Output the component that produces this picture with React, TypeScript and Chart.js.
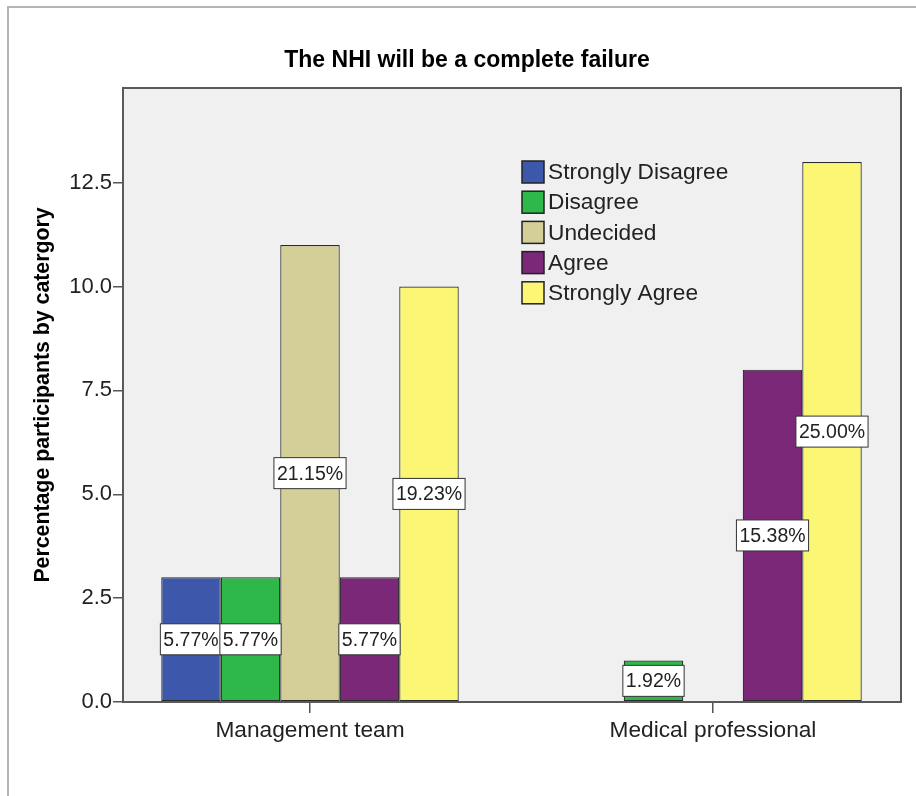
import React, { useEffect, useRef } from 'react';
import { Chart, registerables } from 'chart.js';

Chart.register(...registerables);

const chartTitle = 'The NHI will be a complete failure';
const yAxisTitle = 'Percentage participants by catergory';
const categories = ['Management team', 'Medical professional'];
const seriesNames = ['Strongly Disagree', 'Disagree', 'Undecided', 'Agree', 'Strongly Agree'];
const seriesColors = ['#3d58ab', '#2fb84a', '#d4cf99', '#7b2878', '#fbf775'];

const stronglyDisagree = [3, null];
const disagree = [3, 1];
const undecided = [11, null];
const agree = [3, 8];
const stronglyAgree = [10, 13];

const stronglyDisagreePct = ['5.77%', null];
const disagreePct = ['5.77%', '1.92%'];
const undecidedPct = ['21.15%', null];
const agreePct = ['5.77%', '15.38%'];
const stronglyAgreePct = ['19.23%', '25.00%'];

const yTicks = [0, 2.5, 5, 7.5, 10, 12.5];
const yMax = 14.78;

const seriesValues = [stronglyDisagree, disagree, undecided, agree, stronglyAgree];
const seriesPct = [stronglyDisagreePct, disagreePct, undecidedPct, agreePct, stronglyAgreePct];

const FONT = '"Liberation Sans", Arial, Helvetica, sans-serif';

const decorPlugin = {
  id: 'decor',
  beforeDraw(chart: any) {
    const { ctx, chartArea } = chart;
    ctx.save();
    ctx.strokeStyle = '#b4b4b4';
    ctx.lineWidth = 2;
    ctx.beginPath();
    ctx.moveTo(8, 796);
    ctx.lineTo(8, 7);
    ctx.lineTo(916, 7);
    ctx.stroke();
    ctx.fillStyle = '#f0f0f0';
    ctx.fillRect(chartArea.left, chartArea.top, chartArea.right - chartArea.left, chartArea.bottom - chartArea.top);
    ctx.restore();
  },
  afterDatasetsDraw(chart: any) {
    const { ctx, chartArea } = chart;
    ctx.save();
    ctx.strokeStyle = '#5a5a5a';
    ctx.lineWidth = 2;
    ctx.strokeRect(chartArea.left, chartArea.top, chartArea.right - chartArea.left, chartArea.bottom - chartArea.top);

    ctx.font = `19.5px ${FONT}`;
    ctx.textAlign = 'center';
    ctx.textBaseline = 'middle';
    chart.data.datasets.forEach((ds: any, di: number) => {
      const meta = chart.getDatasetMeta(di);
      meta.data.forEach((el: any, i: number) => {
        const d = ds.data[i];
        if (!d || d.pct == null) return;
        const p = el.getProps(['x', 'y', 'base'], true);
        let cy = (p.y + p.base) / 2;
        const h = 31;
        if (cy + h / 2 > p.base - 2) cy = p.base - 2 - h / 2;
        const w = ctx.measureText(d.pct).width + 6;
        ctx.fillStyle = '#ffffff';
        ctx.fillRect(p.x - w / 2, cy - h / 2, w, h);
        ctx.strokeStyle = '#333333';
        ctx.lineWidth = 1;
        ctx.strokeRect(p.x - w / 2, cy - h / 2, w, h);
        ctx.fillStyle = '#222222';
        ctx.fillText(d.pct, p.x, cy + 1);
      });
    });

    const lx = 522;
    const ly = 161;
    const step = 30.2;
    ctx.font = `22.7px ${FONT}`;
    ctx.textAlign = 'left';
    ctx.textBaseline = 'middle';
    chart.data.datasets.forEach((ds: any, di: number) => {
      const y = ly + di * step;
      ctx.fillStyle = ds.backgroundColor;
      ctx.fillRect(lx, y, 22, 22);
      ctx.strokeStyle = '#222222';
      ctx.lineWidth = 1.5;
      ctx.strokeRect(lx, y, 22, 22);
      ctx.fillStyle = '#222222';
      ctx.fillText(ds.label, lx + 26, y + 12);
    });

    ctx.restore();
  },
  afterDraw(chart: any) {
    const { ctx } = chart;
    ctx.save();
    ctx.font = `bold 23px ${FONT}`;
    ctx.fillStyle = '#000000';
    ctx.textAlign = 'center';
    ctx.textBaseline = 'middle';
    ctx.fillText(chartTitle, 467, 61);
    ctx.restore();
  },
};

export default function App() {
  const canvasRef = useRef<HTMLCanvasElement | null>(null);

  useEffect(() => {
    if (!canvasRef.current) return;
    const datasets = seriesNames.map((name, si) => ({
      label: name,
      backgroundColor: seriesColors[si],
      borderColor: '#2a2a2a',
      borderWidth: 1.2,
      borderSkipped: false,
      categoryPercentage: 0.7382,
      barPercentage: 1,
      data: categories
        .map((_, ci) => ({ x: ci, y: seriesValues[si][ci], pct: seriesPct[si][ci] }))
        .filter((d) => d.y != null),
    }));

    const chart = new Chart(canvasRef.current, {
      type: 'bar',
      data: { datasets } as any,
      plugins: [decorPlugin],
      options: {
        animation: false,
        responsive: false,
        devicePixelRatio: 1,
        layout: { padding: { top: 88, right: 15, left: 0, bottom: 0 } },
        plugins: {
          legend: { display: false },
          title: { display: false },
          tooltip: { enabled: false },
        },
        scales: {
          x: {
            type: 'linear',
            offset: false,
            min: -187 / 403,
            max: 1 + 188 / 403,
            border: { display: false },
            grid: {
              offset: false,
              drawOnChartArea: false,
              drawTicks: true,
              tickLength: 11,
              color: '#555555',
              lineWidth: 1.5,
            },
            afterBuildTicks: (scale: any) => {
              scale.ticks = categories.map((_, i) => ({ value: i }));
            },
            afterFit: (scale: any) => {
              scale.height = 94;
            },
            ticks: {
              autoSkip: false,
              maxRotation: 0,
              padding: 4,
              color: '#222222',
              font: { family: FONT, size: 22.7 },
              callback: (v: any) => categories[v] ?? '',
            },
          },
          y: {
            type: 'linear',
            min: 0,
            max: yMax,
            border: { display: false },
            grid: {
              drawOnChartArea: false,
              drawTicks: true,
              tickLength: 10,
              color: '#555555',
              lineWidth: 1.5,
            },
            afterBuildTicks: (scale: any) => {
              scale.ticks = yTicks.map((v) => ({ value: v }));
            },
            afterFit: (scale: any) => {
              scale.width = 123;
            },
            ticks: {
              padding: 1,
              color: '#222222',
              font: { family: FONT, size: 22 },
              callback: (v: any) => Number(v).toFixed(1),
            },
            title: {
              display: true,
              text: yAxisTitle,
              color: '#000000',
              font: { family: FONT, size: 21.3, weight: 'bold' },
              padding: { top: 30, bottom: 0 },
            },
          },
        },
      } as any,
    });
    return () => chart.destroy();
  }, []);

  return (
    <div style={{ position: 'fixed', left: 0, top: 0, width: 916, height: 796, background: '#ffffff' }}>
      <canvas ref={canvasRef} width={916} height={796} style={{ display: 'block', width: 916, height: 796 }} />
    </div>
  );
}
